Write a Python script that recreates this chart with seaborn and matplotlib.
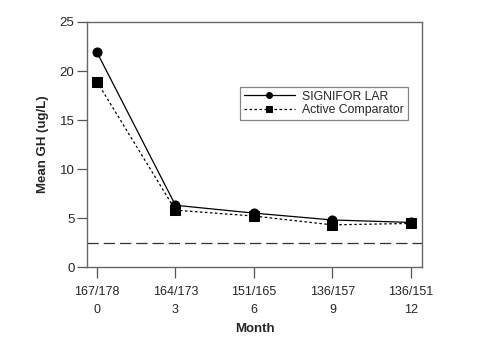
import matplotlib
matplotlib.use("Agg")
import matplotlib.pyplot as plt
import seaborn as sns
import pandas as pd

months = [0, 3, 6, 9, 12]
n_labels = ["167/178", "164/173", "151/165", "136/157", "136/151"]
signifor = [21.9, 6.3, 5.5, 4.8, 4.55]
comparator = [18.9, 5.8, 5.2, 4.3, 4.45]
series_names = ["SIGNIFOR LAR", "Active Comparator"]
reference_level = 2.5

df = pd.DataFrame({
    "Month": months * 2,
    "GH": signifor + comparator,
    "Group": [series_names[0]] * len(months) + [series_names[1]] * len(months),
})

sns.set_style("white")
plt.rcParams["font.family"] = ["Liberation Sans", "DejaVu Sans"]

fig = plt.figure(figsize=(4.81, 3.47), dpi=100)
ax = fig.add_axes([0.181, 0.2305, 0.696, 0.7061])

sns.lineplot(data=df, x="Month", y="GH", hue="Group", style="Group",
             palette={series_names[0]: "black", series_names[1]: "black"},
             dashes={series_names[0]: "", series_names[1]: (2, 2)},
             markers={series_names[0]: "o", series_names[1]: "s"},
             markersize=6.5, linewidth=0.9, markeredgecolor="black",
             ax=ax, legend=True)

ax.axhline(reference_level, color="#333333", linestyle=(0, (9, 4)), linewidth=0.9)

ax.set_xlim(-0.38, 12.42)
ax.set_ylim(0, 25)
ax.set_yticks([0, 5, 10, 15, 20, 25])
ax.set_xticks(months)
ax.set_xticklabels([f"{n}\n{m}" for n, m in zip(n_labels, months)], fontsize=9, linespacing=1.6)
ax.tick_params(axis="y", labelsize=9.5, length=7, width=0.9, color="#555555", direction="out", left=True, pad=2)
ax.tick_params(axis="x", length=8, width=0.9, color="#555555", direction="out", bottom=True, pad=6)
for s in ax.spines.values():
    s.set_color("#666666")
    s.set_linewidth(1.0)

ax.set_xlabel("Month", fontsize=9.5, fontweight="bold", labelpad=5)
ax.set_ylabel("Mean GH (ug/L)", fontsize=9.5, fontweight="bold", labelpad=8)

handles, labels = ax.get_legend_handles_labels()
leg = ax.legend(handles, labels, loc="upper right", bbox_to_anchor=(0.958, 0.735),
                frameon=True, fancybox=False, fontsize=8.8, handlelength=4.2,
                markerscale=0.65, borderpad=0.3, labelspacing=0.15,
                handletextpad=0.6, borderaxespad=0)
leg.get_frame().set_edgecolor("#666666")
leg.get_frame().set_linewidth(0.9)

fig.savefig("out.png", dpi=100)
